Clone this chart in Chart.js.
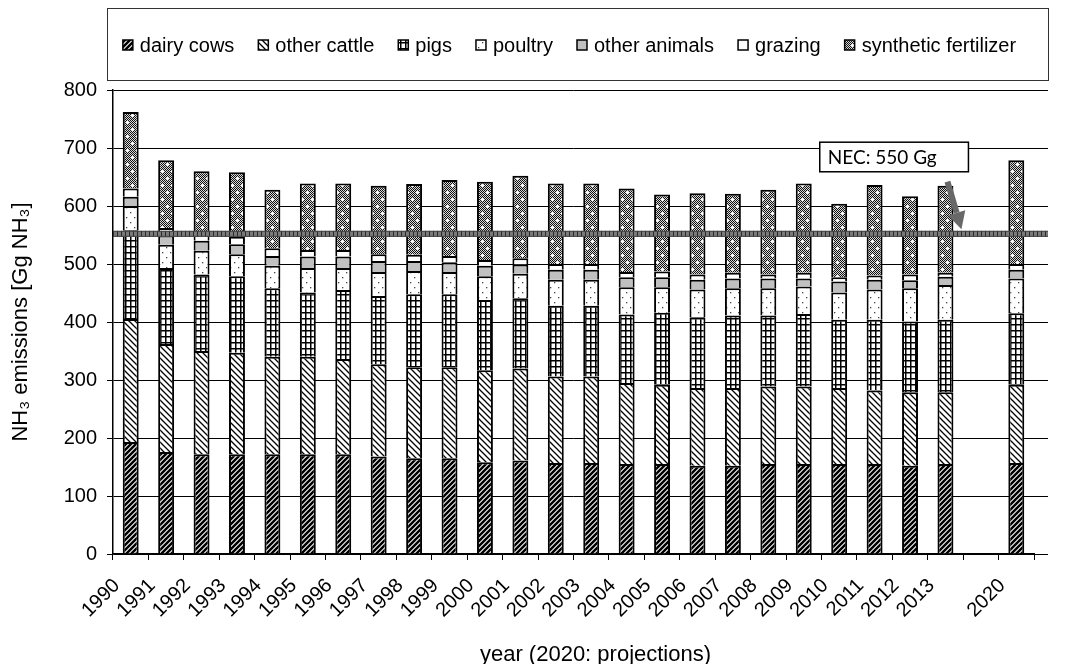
<!DOCTYPE html>
<html>
<head>
<meta charset="utf-8">
<script src="https://cdn.jsdelivr.net/npm/chart.js@4.4.1/dist/chart.umd.min.js"></script>
<style>
  html, body { margin: 0; padding: 0; background: #fff; }
  canvas { display: block; }
</style>
</head>
<body>
<canvas id="chart" width="1069" height="664"></canvas>
<script>
// values (Gg NH3), '' = empty slot before the projection year
const years = ['1990','1991','1992','1993','1994','1995','1996','1997','1998','1999','2000','2001',
  '2002','2003','2004','2005','2006','2007','2008','2009','2010','2011','2012','2013','','2020'];
const dairyCows    = [193,176,172,172,172,172,172,168,165,165,158,161,157,157,155,155,152,152,155,155,155,155,152,155,null,157];
const otherCattle  = [212,186,178,175,168,168,164,159,157,157,159,159,149,149,140,137,134,134,134,134,131,127,127,124,null,135];
const pigs         = [153,131,132,132,118,111,119,118,126,126,121,121,122,122,118,124,122,125,122,125,118,122,122,125,null,123];
const poultry      = [42,40,41,38,39,42,38,41,40,38,41,42,45,45,47,44,48,47,47,47,47,52,57,60,null,60];
const otherAnimals = [16,16,17,17,17,20,20,19,17,17,18,16,17,17,17,17,17,17,17,14,19,17,14,14,null,15];
const grazing      = [14,13,14,13,13,11,11,12,11,11,10,11,10,10,9,10,9,10,7,10,7,7,10,7,null,10];
const synthetic    = [132,117,106,111,101,115,115,118,122,131,135,142,139,139,144,133,140,136,146,154,127,156,135,150,null,179];
const yTicks = [0, 800, 100];
const necValue = 552;
const necLabel = 'NEC: 550 Gg';
const xTitle = 'year (2020: projections)';

const FONT = '"Liberation Sans", Arial, sans-serif';

function makePattern(w, h, draw) {
  const c = document.createElement('canvas');
  c.width = w; c.height = h;
  const g = c.getContext('2d');
  g.fillStyle = '#fff';
  g.fillRect(0, 0, w, h);
  draw(g, w, h);
  return g.createPattern(c, 'repeat');
}

const patDairy = makePattern(5, 5, (g, w) => {
  g.strokeStyle = '#000'; g.lineWidth = 2.5;
  g.beginPath();
  g.moveTo(-1, 1); g.lineTo(1, -1);
  g.moveTo(0, w); g.lineTo(w, 0);
  g.moveTo(w - 1, w + 1); g.lineTo(w + 1, w - 1);
  g.stroke();
});
const patCattle = makePattern(6, 6, (g, w) => {
  g.strokeStyle = '#000'; g.lineWidth = 1.3;
  g.beginPath();
  g.moveTo(-1, w - 1); g.lineTo(1, w + 1);
  g.moveTo(0, 0); g.lineTo(w, w);
  g.moveTo(w - 1, -1); g.lineTo(w + 1, 1);
  g.stroke();
});
const patPigs = makePattern(5, 6, (g, w, h) => {
  g.fillStyle = '#000';
  g.fillRect(0, 0, w, 1.5);
  g.fillRect(0, 0, 1.5, h);
});
const patPoultry = makePattern(8, 10, g => {
  g.fillStyle = '#444';
  g.fillRect(2, 2, 1.3, 1.3);
  g.fillRect(6, 7, 1.3, 1.3);
});
const patSynth = makePattern(10, 14, (g, w, h) => {
  for (let y = 0; y < h; y++) {
    for (let x = 0; x < w; x++) {
      g.fillStyle = (x + y) % 2 ? '#d8d8d8' : '#111';
      g.fillRect(x, y, 1, 1);
    }
  }
  g.fillStyle = '#fff';
  g.fillRect(1, 3, 3, 1); g.fillRect(2, 2, 1, 3);
  g.fillRect(6, 10, 3, 1); g.fillRect(7, 9, 1, 3);
});

const series = [
  { label: 'dairy cows', data: dairyCows, fill: patDairy },
  { label: 'other cattle', data: otherCattle, fill: patCattle },
  { label: 'pigs', data: pigs, fill: patPigs },
  { label: 'poultry', data: poultry, fill: patPoultry },
  { label: 'other animals', data: otherAnimals, fill: '#c0c0c0' },
  { label: 'grazing', data: grazing, fill: '#fff' },
  { label: 'synthetic fertilizer', data: synthetic, fill: patSynth }
];

const extras = {
  id: 'extras',
  beforeDatasetsDraw(chart) {
    // horizontal gridlines run a bit past the last category, as in the original
    const { ctx, chartArea, scales: { y } } = chart;
    ctx.save();
    ctx.strokeStyle = '#000'; ctx.lineWidth = 1;
    y.ticks.forEach(t => {
      const py = Math.round(y.getPixelForValue(t.value)) + 0.5;
      ctx.beginPath(); ctx.moveTo(chartArea.right, py); ctx.lineTo(chartArea.right + 14, py); ctx.stroke();
    });
    ctx.restore();
  },
  afterDatasetsDraw(chart) {
    const { ctx, chartArea, scales: { x, y } } = chart;
    ctx.save();
    // NEC ceiling band
    const ny = y.getPixelForValue(necValue);
    const x0 = chartArea.left, x1 = chartArea.right + 14;
    ctx.fillStyle = '#7a7a7a';
    ctx.fillRect(x0, ny - 3, x1 - x0, 6);
    ctx.fillStyle = '#2a2a2a';
    for (let px = x0; px < x1; px += 4) ctx.fillRect(px, ny - 3, 1, 6);
    ctx.fillStyle = '#444';
    ctx.fillRect(x0, ny - 3, x1 - x0, 1);
    ctx.fillRect(x0, ny + 2, x1 - x0, 1);

    // label box
    const bx0 = x.getPixelForValue(19) + 16, bx1 = x.getPixelForValue(23) + 23;
    const by0 = y.getPixelForValue(710), by1 = y.getPixelForValue(659);
    ctx.fillStyle = '#fff';
    ctx.fillRect(bx0, by0, bx1 - bx0, by1 - by0);
    ctx.strokeStyle = '#000'; ctx.lineWidth = 1.5;
    ctx.strokeRect(bx0, by0, bx1 - bx0, by1 - by0);
    ctx.fillStyle = '#000';
    ctx.font = '19px Lato, "Open Sans", sans-serif';
    ctx.textBaseline = 'middle'; ctx.textAlign = 'left';
    ctx.fillText(necLabel, bx0 + 8, (by0 + by1) / 2 + 1);

    // arrow pointing at the ceiling
    const ax = x.getPixelForValue(23);
    const sx = ax + 2, sy = y.getPixelForValue(642);
    const tx = ax + 16, ty = y.getPixelForValue(560);
    const dx = tx - sx, dy = ty - sy, len = Math.hypot(dx, dy);
    const ux = dx / len, uy = dy / len;
    const hl = 17, hw = 9;
    const bxp = tx - ux * hl, byp = ty - uy * hl;
    ctx.strokeStyle = '#686868'; ctx.lineWidth = 6; ctx.lineCap = 'butt';
    ctx.beginPath(); ctx.moveTo(sx, sy); ctx.lineTo(bxp, byp); ctx.stroke();
    ctx.fillStyle = '#686868';
    ctx.beginPath();
    ctx.moveTo(tx, ty);
    ctx.lineTo(bxp - uy * hw, byp + ux * hw);
    ctx.lineTo(bxp + uy * hw, byp - ux * hw);
    ctx.closePath(); ctx.fill();
    ctx.restore();
  },
  afterDraw(chart) {
    const { ctx, chartArea } = chart;
    ctx.save();
    // x axis title (sits a little right of the plot centre in the original)
    ctx.font = '22px ' + FONT;
    ctx.fillStyle = '#000';
    ctx.textAlign = 'center'; ctx.textBaseline = 'middle';
    ctx.fillText(xTitle, (chartArea.left + chartArea.right) / 2 + 22, chart.height - 9);

    // framed legend on top
    const lx0 = chartArea.left - 6, lx1 = chartArea.right + 14, ly0 = 8, ly1 = 80;
    ctx.strokeStyle = '#333'; ctx.lineWidth = 1;
    ctx.strokeRect(lx0 + 0.5, ly0 + 0.5, lx1 - lx0, ly1 - ly0);
    ctx.font = '20px ' + FONT;
    const box = 10, gap = 7, itemGap = 24;
    const widths = series.map(s => box + gap + ctx.measureText(s.label).width);
    const total = widths.reduce((a, b) => a + b, 0) + itemGap * (series.length - 1);
    let cx = (lx0 + lx1) / 2 - total / 2 - 8;
    const cy = 45;
    series.forEach((s, i) => {
      ctx.fillStyle = s.fill;
      ctx.fillRect(cx, cy - box / 2, box, box);
      ctx.strokeStyle = '#000'; ctx.lineWidth = 1.5;
      ctx.strokeRect(cx, cy - box / 2, box, box);
      ctx.fillStyle = '#000';
      ctx.textBaseline = 'middle'; ctx.textAlign = 'left';
      ctx.fillText(s.label, cx + box + gap, cy + 1);
      cx += widths[i] + itemGap;
    });
    ctx.restore();
  }
};

new Chart(document.getElementById('chart'), {
  type: 'bar',
  data: {
    labels: years,
    datasets: series.map(s => ({
      label: s.label,
      data: s.data,
      backgroundColor: s.fill,
      borderColor: '#000',
      borderWidth: 2,
      barPercentage: 0.45,
      categoryPercentage: 1
    }))
  },
  options: {
    responsive: false,
    animation: false,
    devicePixelRatio: 1,
    layout: { padding: { top: 90, right: 35, bottom: 0, left: 0 } },
    plugins: { legend: { display: false }, tooltip: { enabled: false } },
    scales: {
      x: {
        stacked: true,
        offset: true,
        grid: { display: true, drawOnChartArea: false, offset: true, color: '#000', tickLength: 6 },
        border: { color: '#000', width: 1.5 },
        ticks: { autoSkip: false, maxRotation: 45, minRotation: 45, color: '#000', padding: 14,
                 labelOffset: -14, font: { size: 20, family: FONT } },
        title: { display: false },
        afterFit(s) { s.height = 110; }
      },
      y: {
        stacked: true,
        min: yTicks[0], max: yTicks[1],
        ticks: { stepSize: yTicks[2], color: '#000', padding: 10, font: { size: 20, family: FONT } },
        grid: { color: '#000', lineWidth: 1, tickLength: 6 },
        border: { color: '#000', width: 1.5 },
        title: { display: true, text: 'NH₃ emissions [Gg NH₃]', color: '#000',
                 font: { size: 22, family: FONT }, padding: { top: 8, bottom: 0 } },
        afterFit(s) { s.width = 113; }
      }
    }
  },
  plugins: [extras]
});
</script>
</body>
</html>
